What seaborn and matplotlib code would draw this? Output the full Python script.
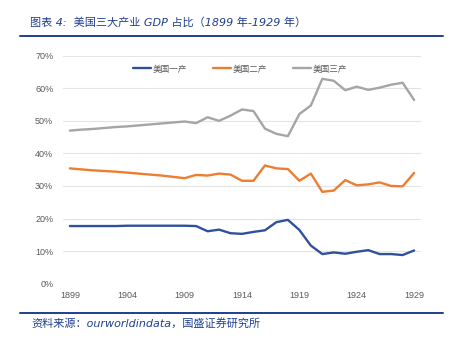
import numpy as np
import pandas as pd
import seaborn as sns
import matplotlib
matplotlib.use("Agg")
import matplotlib.pyplot as plt
from matplotlib.lines import Line2D
from matplotlib.ticker import PercentFormatter

# Share of US GDP by sector, 1899-1929 (%)
years = list(range(1899, 1930))
primary = [17.7, 17.7, 17.7, 17.7, 17.7, 17.8, 17.8, 17.8, 17.8, 17.8,
           17.8, 17.7, 16.1, 16.6, 15.5, 15.3, 15.9, 16.4, 18.9, 19.6,
           16.5, 11.7, 9.1, 9.6, 9.2, 9.8, 10.3, 9.1, 9.1, 8.8, 10.2]
secondary = [35.4, 35.1, 34.8, 34.6, 34.4, 34.1, 33.8, 33.5, 33.2, 32.8,
             32.4, 33.4, 33.2, 33.8, 33.5, 31.6, 31.6, 36.3, 35.4, 35.2,
             31.6, 33.8, 28.2, 28.6, 31.8, 30.2, 30.5, 31.1, 30.0, 29.9, 34.0]
tertiary = [47.0, 47.3, 47.5, 47.8, 48.1, 48.3, 48.6, 48.9, 49.2, 49.5,
            49.8, 49.3, 51.1, 50.0, 51.6, 53.5, 53.0, 47.6, 46.0, 45.3,
            52.1, 54.7, 62.9, 62.3, 59.4, 60.5, 59.5, 60.2, 61.1, 61.7, 56.4]
series_names = ["美国一产", "美国二产", "美国三产"]
xticks = [1899, 1904, 1909, 1914, 1919, 1924, 1929]

title = "图表 4:  美国三大产业 GDP 占比（1899 年-1929 年）"
source = "资料来源：ourworldindata，国盛证券研究所"

df = pd.DataFrame({
    "year": years * 3,
    "share": primary + secondary + tertiary,
    "sector": sum([[n] * len(years) for n in series_names], []),
})

sns.set_theme(style="white")
plt.rcParams["font.family"] = ["DejaVu Sans", "Noto Sans CJK SC"]

colors = ["#2F519C", "#ED7D31", "#A5A5A5"]
W, H = 451, 341
fig = plt.figure(figsize=(W / 100, H / 100), dpi=100)
ax = fig.add_axes([63 / W, 1 - 283.7 / H, (421 - 63) / W, (283.7 - 55.7) / H])

sns.lineplot(data=df, x="year", y="share", hue="sector", hue_order=series_names,
             palette=colors, linewidth=1.7, ax=ax, legend=False)

ax.set_xlim(1898.4, 1929.6)
ax.set_ylim(0, 70)
ax.set_yticks(np.arange(0, 71, 10))
ax.yaxis.set_major_formatter(PercentFormatter(decimals=0))
ax.set_xticks(xticks)
ax.set_xlabel("")
ax.set_ylabel("")
ax.grid(axis="y", color="#E3E3E3", linewidth=0.8)
for s in ax.spines.values():
    s.set_visible(False)
ax.tick_params(axis="both", length=0, labelsize=6.5, colors="#595959")
ax.tick_params(axis="y", pad=7)
ax.tick_params(axis="x", pad=5)
for lbl in ax.get_xticklabels() + ax.get_yticklabels():
    lbl.set_family(["Liberation Sans", "DejaVu Sans"])

handles = [Line2D([0], [0], color=c, linewidth=1.7) for c in colors]
fig.legend(handles, series_names, loc="center", ncol=3,
           bbox_to_anchor=(240 / W, 1 - 69 / H), frameon=False,
           prop={"family": "Noto Sans CJK SC", "size": 6.2},
           handlelength=2.1, handletextpad=0.2, columnspacing=3.0,
           labelcolor="#595959")

title_color = "#1F3E92"
fig.text(30 / W, 1 - 22 / H, title, fontsize=8, style="italic",
         color=title_color, va="center", ha="left")
fig.add_artist(Line2D([20 / W, 443 / W], [1 - 36 / H, 1 - 36 / H],
                      color=title_color, linewidth=1.4))
fig.add_artist(Line2D([20 / W, 443 / W], [1 - 313 / H, 1 - 313 / H],
                      color=title_color, linewidth=1.4))
fig.text(31 / W, 1 - 323 / H, source, fontsize=8, style="italic",
         color=title_color, va="center", ha="left")

fig.savefig("out.png", dpi=100)
